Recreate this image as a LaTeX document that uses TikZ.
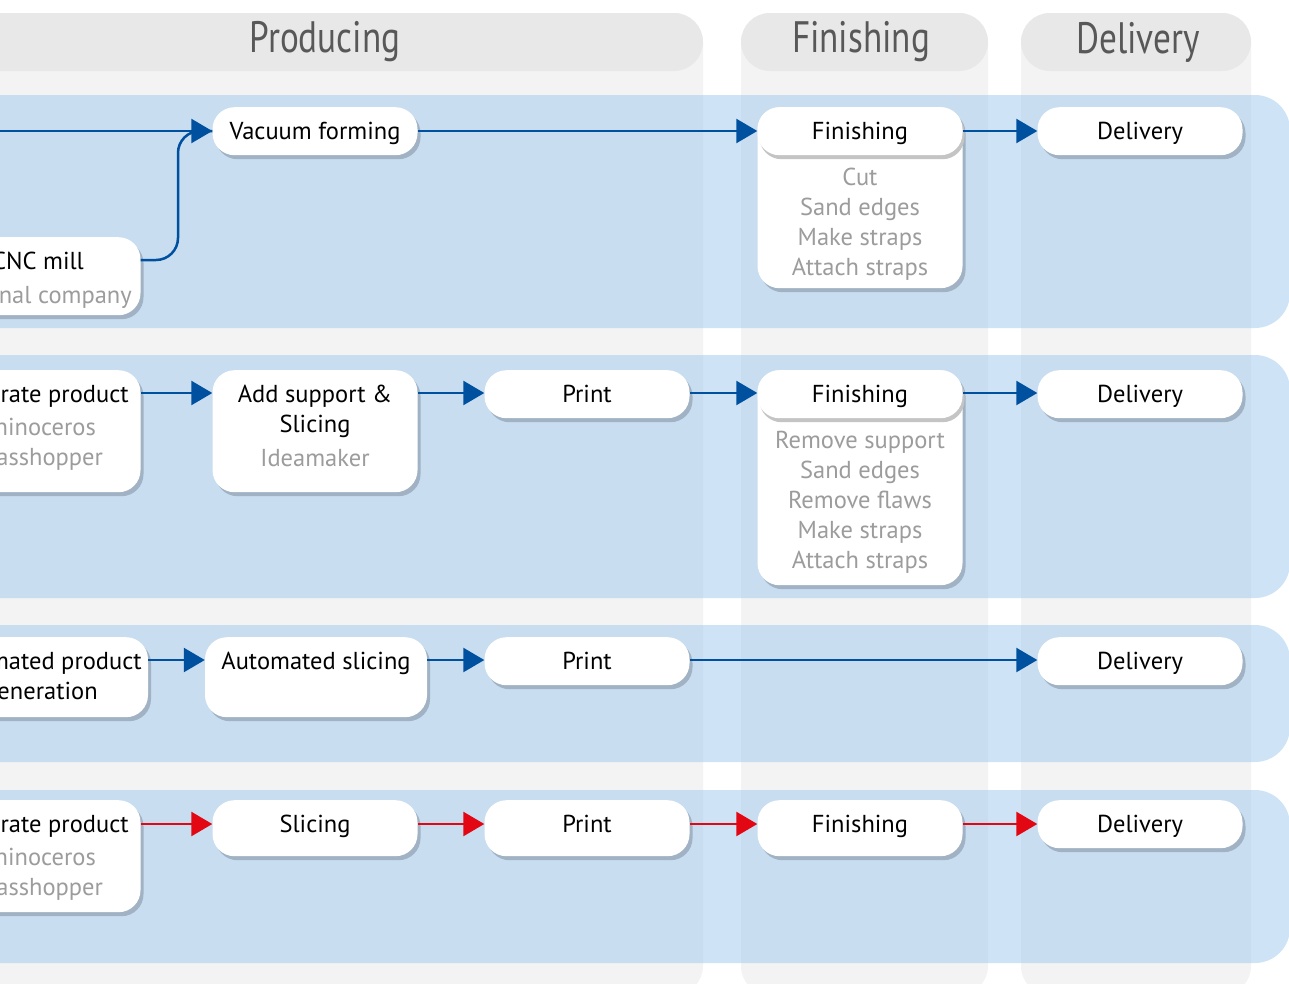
\documentclass[tikz,border=0pt]{standalone}
\usepackage{fontspec}
\setmainfont{PT Sans}
\usetikzlibrary{arrows.meta,shadows}

\definecolor{headgray}{RGB}{232,232,232}
\definecolor{colgray}{RGB}{243,243,243}
\definecolor{headtext}{RGB}{88,88,88}
\definecolor{bandblue}{RGB}{158,200,236}
\definecolor{flowblue}{RGB}{0,80,160}
\definecolor{flowred}{RGB}{227,6,19}
\definecolor{shadowblue}{RGB}{160,178,195}
\definecolor{pillshadow}{RGB}{196,196,196}
\definecolor{listgray}{RGB}{156,156,156}

\newcommand{\headfont}{\fontsize{44}{50}\selectfont}
\newcommand{\stagefont}{\fontsize{24.5}{30}\selectfont}
\newcommand{\subtxt}[1]{\textcolor{listgray}{#1}}
\newcommand{\lines}[1]{\begin{tabular}[t]{@{}c@{}}#1\end{tabular}}

\tikzset{
	header/.style={fill=headgray, rounded corners=29pt},
	column/.style={fill=colgray, rounded corners=29pt},
	band/.style={fill=bandblue, fill opacity=0.5, rounded corners=35pt},
	headlabel/.style={text=headtext, font=\headfont},
	box/.style={fill=white, rounded corners=22pt, minimum width=205pt, inner sep=0pt,
		text height=32pt, text depth=16pt, anchor=north, font=\stagefont},
	stage/.style={box, drop shadow={shadow xshift=3pt, shadow yshift=-4pt, fill=shadowblue, opacity=1}},
	listbox/.style={stage, text=listgray, text height=78pt},
	title/.style={box, drop shadow={shadow xshift=2pt, shadow yshift=-4pt, fill=pillshadow, opacity=1}},
	flow/.style={draw=flowblue, line width=2.5pt, -{Triangle[length=21pt,width=24pt]}},
	redflow/.style={flow, draw=flowred},
}

\begin{document}
\begin{tikzpicture}[x=1pt, y=-1pt]
	\useasboundingbox (0,0) rectangle (1289,983);
	\begin{scope}
	\clip (0,0) rectangle (1289,983);
	% columns and their headers
	\path[column] (-100,13) rectangle (703,995);
	\path[column] (741,13) rectangle (988,995);
	\path[column] (1021,13) rectangle (1251,995);
	\path[header] (-100,13) rectangle (703,71);
	\path[header] (741,13) rectangle (988,71);
	\path[header] (1021,13) rectangle (1251,71);
	\node[headlabel] (hprod) at (325,42) {\scalebox{0.8}[1]{Producing}};
	\node[headlabel] (hfin) at (861,42) {\scalebox{0.8}[1]{Finishing}};
	\node[headlabel] (hdel) at (1138,42) {\scalebox{0.8}[1]{Delivery}};
	% rows
	\path[band] (-100,95) rectangle (1290,328);
	\path[band] (-100,355) rectangle (1290,598);
	\path[band] (-100,625) rectangle (1290,762);
	\path[band] (-100,790) rectangle (1290,963);
	\coordinate (r1) at (0,131);
	\coordinate (r2) at (0,393);
	\coordinate (r3) at (0,660);
	\coordinate (r4) at (0,824);

	% row 1
	\coordinate (in1) at (-80,131);
	\coordinate (bend1) at (178,131);
	\node[stage] (vac) at (315,107) {Vacuum forming};
	\node[stage, text depth=46pt] (cnc) at (38,237) {\lines{CNC mill\\[4pt]\subtxt{External company}}};
	\node[listbox, text depth=103pt] (fin1box) at (860,107) {\lines{Cut\\Sand edges\\Make straps\\Attach straps}};
	\node[title] (fin1) at (860,107) {Finishing};
	\node[stage] (del1) at (1140,107) {Delivery};
	\draw[flow] (in1) -- (vac.west |- r1);
	\draw[draw=flowblue, line width=2.5pt, rounded corners=22pt] (cnc.east |- 0,260) -| (bend1) -- (vac.west |- r1);
	\draw[flow] (vac.east |- r1) -- (fin1.west |- r1);
	\draw[flow] (fin1.east |- r1) -- (del1.west |- r1);

	% row 2
	\node[stage, text depth=90pt] (gen2) at (38,370) {\lines{Generate product\\[3pt]\subtxt{Rhinoceros}\\\subtxt{Grasshopper}}};
	\node[stage, text depth=90pt] (sup) at (315,370) {\lines{Add support \&\\Slicing\\[4pt]\subtxt{Ideamaker}}};
	\node[stage] (print2) at (587,370) {Print};
	\node[listbox, text depth=137pt] (fin2box) at (860,370) {\lines{Remove support\\Sand edges\\Remove flaws\\Make straps\\Attach straps}};
	\node[title] (fin2) at (860,370) {Finishing};
	\node[stage] (del2) at (1140,370) {Delivery};
	\draw[flow] (gen2.east |- r2) -- (sup.west |- r2);
	\draw[flow] (sup.east |- r2) -- (print2.west |- r2);
	\draw[flow] (print2.east |- r2) -- (fin2.west |- r2);
	\draw[flow] (fin2.east |- r2) -- (del2.west |- r2);

	% row 3
	\node[stage, minimum width=214pt, text depth=48pt] (auto) at (41,637) {\lines{Automated product\\generation}};
	\node[stage, minimum width=222pt, text depth=48pt] (aslice) at (316,637) {Automated slicing};
	\node[stage] (print3) at (587,637) {Print};
	\node[stage] (del3) at (1140,637) {Delivery};
	\draw[flow] (auto.east |- r3) -- (aslice.west |- r3);
	\draw[flow] (aslice.east |- r3) -- (print3.west |- r3);
	\draw[flow] (print3.east |- r3) -- (del3.west |- r3);

	% row 4
	\node[stage, text depth=80pt] (gen4) at (38,800) {\lines{Generate product\\[3pt]\subtxt{Rhinoceros}\\\subtxt{Grasshopper}}};
	\node[stage, text depth=24pt] (slice) at (315,800) {Slicing};
	\node[stage, text depth=24pt] (print4) at (587,800) {Print};
	\node[stage, text depth=24pt] (fin4) at (860,800) {Finishing};
	\node[stage] (del4) at (1140,800) {Delivery};
	\draw[redflow] (gen4.east |- r4) -- (slice.west |- r4);
	\draw[redflow] (slice.east |- r4) -- (print4.west |- r4);
	\draw[redflow] (print4.east |- r4) -- (fin4.west |- r4);
	\draw[redflow] (fin4.east |- r4) -- (del4.west |- r4);
	\end{scope}
\end{tikzpicture}
\end{document}
